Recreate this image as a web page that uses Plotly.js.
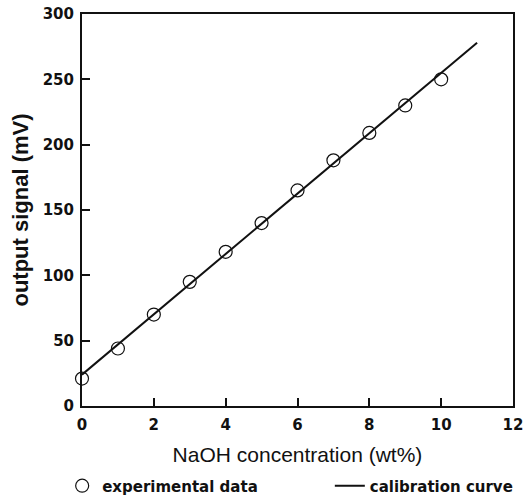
<!DOCTYPE html>
<html>
<head>
<meta charset="utf-8">
<script src="https://cdn.plot.ly/plotly-3.0.1.min.js"></script>
<style>html,body{margin:0;padding:0;background:#fff;}#chart{width:531px;height:500px;}</style>
</head>
<body>
<div id="chart"></div>
<script>
// NaOH concentration (wt%)
var concentration = [0, 1, 2, 3, 4, 5, 6, 7, 8, 9, 10];
// output signal (mV), experimental data
var signal = [21, 44, 70, 95, 118, 140, 165, 188, 209, 230, 250];
// calibration curve end points
var calX = [0, 11];
var calY = [24, 278];
var xTicks = [0, 2, 4, 6, 8, 10, 12];
var yTicks = [0, 50, 100, 150, 200, 250, 300];

var boldFont = 'DejaVu Sans, Liberation Sans, Arial, sans-serif';
var legendFont = {size: 15, family: boldFont, weight: 'bold', color: '#111'};
var tickFont = {size: 15, family: boldFont, weight: 'bold', color: '#111'};

var traces = [
  {
    x: concentration, y: signal, type: 'scatter', mode: 'markers',
    name: 'experimental data', legend: 'legend',
    marker: {symbol: 'circle-open', size: 13, color: '#111', line: {width: 1.2, color: '#111'}},
    cliponaxis: false
  },
  {
    x: calX, y: calY, type: 'scatter', mode: 'lines',
    name: 'calibration curve', legend: 'legend2',
    line: {color: '#111', width: 2},
    cliponaxis: false
  }
];

var layout = {
  width: 531, height: 500,
  margin: {l: 82, r: 18, t: 14, b: 94, autoexpand: false},
  paper_bgcolor: '#fff', plot_bgcolor: '#fff',
  font: {family: 'Liberation Sans, Arial, sans-serif', color: '#111'},
  showlegend: true,
  legend: {
    orientation: 'h', x: -0.046, xanchor: 'left', y: -0.204, yanchor: 'middle',
    font: legendFont, bgcolor: 'rgba(0,0,0,0)'
  },
  legend2: {
    orientation: 'h', x: 0.575, xanchor: 'left', y: -0.204, yanchor: 'middle',
    font: legendFont, bgcolor: 'rgba(0,0,0,0)'
  },
  xaxis: {
    range: [0, 12], tickvals: xTicks, ticktext: xTicks.map(String),
    showgrid: false, zeroline: false,
    showline: true, linecolor: '#111', linewidth: 2, mirror: true,
    ticks: 'inside', ticklen: 8, tickwidth: 2, tickcolor: '#111',
    ticklabelstandoff: 4,
    tickfont: tickFont,
    title: {text: 'NaOH concentration (wt%)', font: {size: 21, color: '#111'}, standoff: 14}
  },
  yaxis: {
    range: [0, 300], tickvals: yTicks, ticktext: yTicks.map(String),
    showgrid: false, zeroline: false,
    showline: true, linecolor: '#111', linewidth: 2, mirror: true,
    ticks: 'inside', ticklen: 8, tickwidth: 2, tickcolor: '#111',
    ticklabelstandoff: 3,
    tickfont: tickFont,
    title: {text: 'output signal (mV)', font: {size: 22, weight: 'bold', color: '#111'}, standoff: 8}
  }
};

Plotly.newPlot('chart', traces, layout, {displayModeBar: false, staticPlot: true});
</script>
</body>
</html>
